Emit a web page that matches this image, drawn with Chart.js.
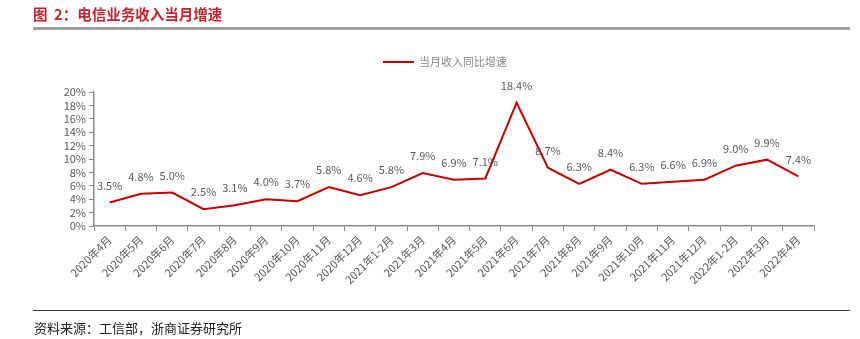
<!DOCTYPE html>
<html>
<head>
<meta charset="utf-8">
<script src="https://cdn.jsdelivr.net/npm/chart.js@4/dist/chart.umd.min.js"></script>
<style>
  html, body { margin: 0; padding: 0; background: #fff; }
  #wrap { position: relative; width: 860px; height: 339px; overflow: hidden; }
  #title {
    position: absolute; left: 33px; top: 3px; white-space: pre;
    font: bold 14.5px "Noto Sans CJK SC", sans-serif; color: #C0272D;
  }
  #topRule { position: absolute; left: 33px; top: 27px; width: 817px; height: 3px; background: #a0a0a0; }
  #bottomRule { position: absolute; left: 33px; top: 310px; width: 817px; height: 1px; background: #333; }
  #source {
    position: absolute; left: 34px; top: 318px;
    font: 13px "Noto Sans CJK SC", sans-serif; color: #222;
  }
  #chart { position: absolute; left: 0; top: 0; }
</style>
</head>
<body>
<div id="wrap">
  <canvas id="chart" width="860" height="339"></canvas>
  <div id="title">图  2：电信业务收入当月增速</div>
  <div id="topRule"></div>
  <div id="bottomRule"></div>
  <div id="source">资料来源：工信部，浙商证券研究所</div>
</div>
<script>
const months = [
  "2020年4月", "2020年5月", "2020年6月", "2020年7月", "2020年8月", "2020年9月",
  "2020年10月", "2020年11月", "2020年12月", "2021年1-2月", "2021年3月", "2021年4月",
  "2021年5月", "2021年6月", "2021年7月", "2021年8月", "2021年9月", "2021年10月",
  "2021年11月", "2021年12月", "2022年1-2月", "2022年3月", "2022年4月"
];
const growth = [
  3.5, 4.8, 5.0, 2.5, 3.1, 4.0, 3.7, 5.8, 4.6, 5.8, 7.9, 6.9,
  7.1, 18.4, 8.7, 6.3, 8.4, 6.3, 6.6, 6.9, 9.0, 9.9, 7.4
];
const seriesName = "当月收入同比增速";
const lineRed = "#C00000";
const textGray = "#595959";
const axisGray = "#8c8c8c";

// value labels above each point
const valueLabels = {
  id: "valueLabels",
  afterDatasetsDraw(chart) {
    const ctx = chart.ctx;
    const meta = chart.getDatasetMeta(0);
    ctx.save();
    ctx.font = '11px "Noto Sans CJK SC", sans-serif';
    ctx.fillStyle = textGray;
    ctx.textAlign = "center";
    ctx.textBaseline = "middle";
    meta.data.forEach((pt, i) => {
      ctx.fillText(growth[i].toFixed(1) + "%", pt.x, pt.y - 17);
    });
    ctx.restore();
  }
};

// single-entry legend above the plot, a little left of centre
const topLegend = {
  id: "topLegend",
  afterDraw(chart) {
    const ctx = chart.ctx;
    const ds = chart.data.datasets[0];
    ctx.save();
    ctx.font = '11px "Noto Sans CJK SC", sans-serif';
    const tw = ctx.measureText(ds.label).width;
    const lineW = 31, gap = 5;
    const total = lineW + gap + tw;
    const x0 = (chart.chartArea.left + chart.chartArea.right) / 2 - total / 2 - 9;
    const y = 62;
    ctx.strokeStyle = ds.borderColor;
    ctx.lineWidth = 2;
    ctx.beginPath();
    ctx.moveTo(x0, y);
    ctx.lineTo(x0 + lineW, y);
    ctx.stroke();
    ctx.fillStyle = "#8a8a8a";
    ctx.textBaseline = "middle";
    ctx.fillText(ds.label, x0 + lineW + gap, y);
    ctx.restore();
  }
};

new Chart(document.getElementById("chart"), {
  type: "line",
  data: {
    labels: months,
    datasets: [{
      label: seriesName,
      data: growth,
      borderColor: lineRed,
      backgroundColor: lineRed,
      borderWidth: 2,
      pointRadius: 0,
      tension: 0,
      fill: false
    }]
  },
  options: {
    responsive: false,
    animation: false,
    layout: { padding: { top: 92, left: 28, right: 46, bottom: 40 } },
    plugins: {
      legend: { display: false },
      tooltip: { enabled: false }
    },
    scales: {
      x: {
        offset: true,
        afterFit: (s) => { s.height = 73; },
        border: { color: axisGray, width: 1.5 },
        grid: { display: true, drawOnChartArea: false, offset: true, tickLength: 5, color: axisGray },
        ticks: {
          color: textGray, minRotation: 45, maxRotation: 45, autoSkip: false,
          font: { family: '"Noto Sans CJK SC", sans-serif', size: 11 }, padding: 2
        }
      },
      y: {
        min: 0, max: 20,
        afterFit: (s) => { s.width = 66; },
        border: { color: axisGray, width: 1.5 },
        grid: { display: true, drawOnChartArea: false, tickLength: 5, color: axisGray },
        ticks: {
          stepSize: 2, autoSkip: false, color: textGray, padding: 3,
          font: { family: '"Noto Sans CJK SC", sans-serif', size: 11 },
          callback: (v) => v + "%"
        }
      }
    }
  },
  plugins: [valueLabels, topLegend]
});
</script>
</body>
</html>
